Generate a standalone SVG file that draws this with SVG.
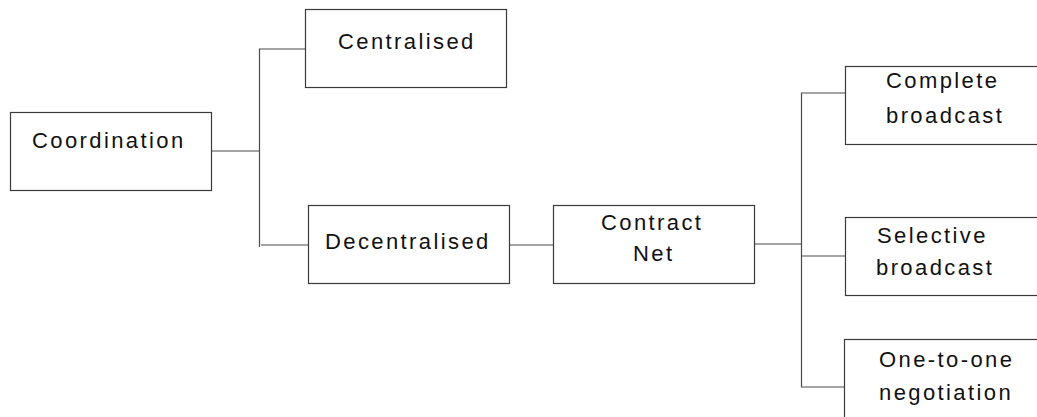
<svg xmlns="http://www.w3.org/2000/svg" width="1037" height="417" viewBox="0 0 1037 417">
  <style>
    .box { fill: #ffffff; stroke: #3a3a3a; stroke-width: 1.2; }
    .link { fill: none; stroke: #4a4a4a; stroke-width: 1.2; }
    .label { font-family: "Liberation Sans", Arial, sans-serif; font-size: 22px; letter-spacing: 2.4px; fill: #111111; }
  </style>
  <rect width="1037" height="417" fill="#ffffff"/>

  <!-- tree connectors -->
  <g id="connectors">
    <polyline class="link" points="211,151 259,151"/>
    <polyline class="link" points="305,49 259.5,49 259.5,247"/>
    <polyline class="link" points="261,245 308,245"/>
    <polyline class="link" points="510,245 553,245"/>
    <polyline class="link" points="755,244 801.5,244"/>
    <polyline class="link" points="845,93 801.5,93 801.5,387 844,387"/>
    <polyline class="link" points="801.5,256 845,256"/>
  </g>

  <g id="coordination">
    <rect class="box" x="10.5" y="112.5" width="201" height="78"/>
    <text class="label" x="32" y="148">Coordination</text>
  </g>

  <g id="centralised">
    <rect class="box" x="305.5" y="9.5" width="201" height="78"/>
    <text class="label" x="338" y="49">Centralised</text>
  </g>

  <g id="decentralised">
    <rect class="box" x="308.5" y="205.5" width="201" height="78"/>
    <text class="label" x="325" y="249">Decentralised</text>
  </g>

  <g id="contract-net">
    <rect class="box" x="553.5" y="205.5" width="201" height="78"/>
    <text class="label" x="601" y="230">Contract</text>
    <text class="label" x="633" y="261">Net</text>
  </g>

  <g id="complete-broadcast">
    <rect class="box" x="845.5" y="66.5" width="200" height="78"/>
    <text class="label" x="886" y="88">Complete</text>
    <text class="label" x="886" y="123">broadcast</text>
  </g>

  <g id="selective-broadcast">
    <rect class="box" x="845.5" y="217.5" width="200" height="78"/>
    <text class="label" x="877" y="243">Selective</text>
    <text class="label" x="876" y="275">broadcast</text>
  </g>

  <g id="one-to-one-negotiation">
    <rect class="box" x="844.5" y="339.5" width="200" height="90"/>
    <text class="label" x="879" y="367">One-to-one</text>
    <text class="label" x="879" y="400">negotiation</text>
  </g>
</svg>
